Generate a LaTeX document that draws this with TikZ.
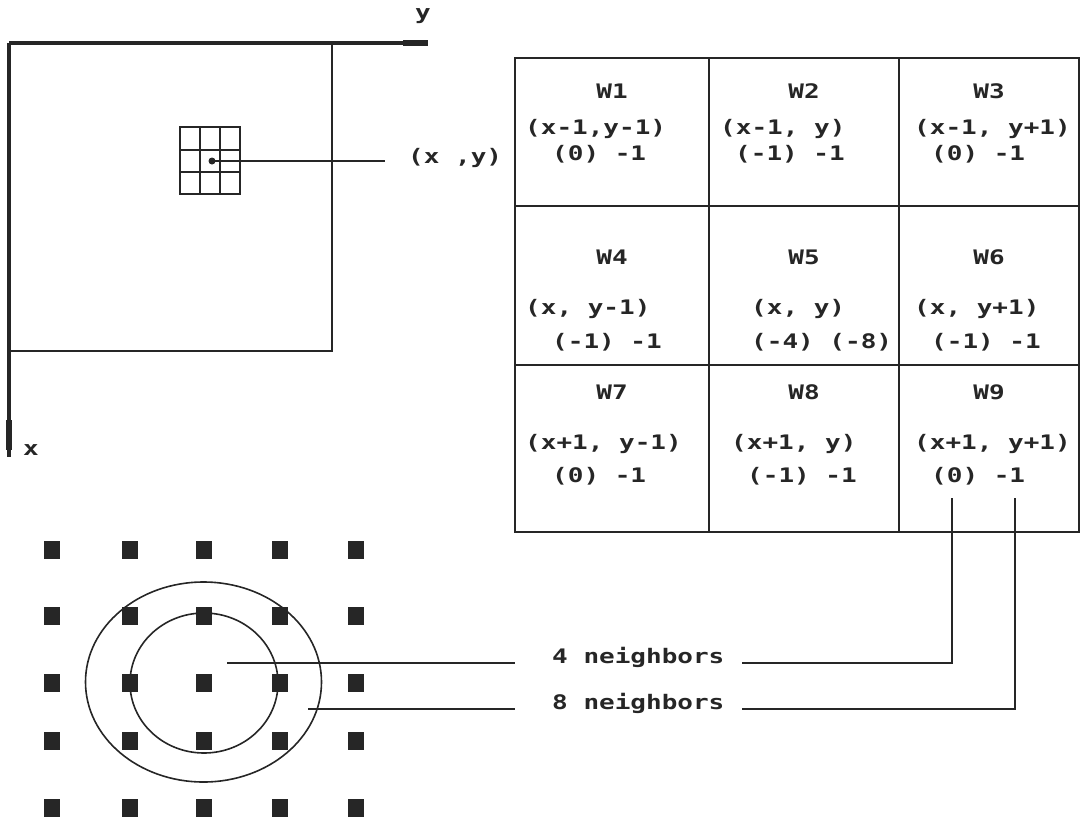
\documentclass[tikz,border=0pt]{standalone}
\usepackage{fontspec}
\newfontfamily\dmfont{DejaVu Sans Mono}[FakeStretch=1.3]
\begin{document}
\begin{tikzpicture}[x=1pt,y=-1pt,
  ln/.style={line width=1.6pt, black!85},
  axis/.style={line width=3.2pt, black!85},
  axend/.style={line width=6pt, black!85},
  txt/.style={font=\dmfont\bfseries\fontsize{20}{20}\selectfont, inner sep=0pt, text=black!85},
  lt/.style={txt, anchor=mid west},
  ct/.style={txt, anchor=mid},
  sq/.style={fill=black!85, minimum width=16pt, minimum height=18pt, inner sep=0pt}
]
\useasboundingbox (0,0) rectangle (1081,820);
% axes
\coordinate (O) at (9,43);
\coordinate (Yend) at (428,43);
\coordinate (Xend) at (9,457);
\draw[axis] (O) -- (Yend);
\draw[axis] (O) -- (Xend);
\draw[axend] (403,43) -- (Yend);
\draw[axend] (9,420) -- (9,450);
\node[ct] (ylab) at (423,17) {y};
\node[ct] (xlab) at (31,453) {x};
% image rectangle
\coordinate (R1) at (332,43);
\coordinate (R2) at (332,351);
\coordinate (R3) at (11,351);
\draw[ln] (R1) -- (R2) -- (R3);
% 3x3 window
\draw[ln] (180,127) rectangle (240,194);
\draw[ln] (200,127) -- (200,194) (220,127) -- (220,194)
          (180,150) -- (240,150) (180,172) -- (240,172);
\node[circle, fill=black!85, inner sep=0pt, minimum size=7pt] (dot) at (212,161) {};
\node[lt] (xy) at (408,161) {(x ,y)};
\coordinate (xyline) at (385,161);
\draw[ln] (dot.center) -- (xyline);
% table
\draw[ln] (515,58) rectangle (1079,532);
\draw[ln] (709,58) -- (709,532) (899,58) -- (899,532)
          (515,206) -- (1079,206) (515,365) -- (1079,365);
% row 1
\node[ct] (w1) at (612,96) {W1};
\node[lt] (c1) at (525,132) {(x-1,y-1)};
\node[lt] (v1) at (552,158) {(0) -1};
\node[ct] (w2) at (804,96) {W2};
\node[lt] (c2) at (720,132) {(x-1, y)};
\node[lt] (v2) at (735,158) {(-1) -1};
\node[ct] (w3) at (989,96) {W3};
\node[lt] (c3) at (914,132) {(x-1, y+1)};
\node[lt] (v3) at (931,158) {(0) -1};
% row 2
\node[ct] (w4) at (612,262) {W4};
\node[lt] (c4) at (525,312) {(x, y-1)};
\node[lt] (v4) at (552,346) {(-1) -1};
\node[ct] (w5) at (804,262) {W5};
\node[lt] (c5) at (751,312) {(x, y)};
\node[lt] (v5) at (751,346) {(-4) (-8)};
\node[ct] (w6) at (989,262) {W6};
\node[lt] (c6) at (914,312) {(x, y+1)};
\node[lt] (v6) at (931,346) {(-1) -1};
% row 3
\node[ct] (w7) at (612,397) {W7};
\node[lt] (c7) at (525,447) {(x+1, y-1)};
\node[lt] (v7) at (552,480) {(0) -1};
\node[ct] (w8) at (804,397) {W8};
\node[lt] (c8) at (731,447) {(x+1, y)};
\node[lt] (v8) at (747,480) {(-1) -1};
\node[ct] (w9) at (989,397) {W9};
\node[lt] (c9) at (914,447) {(x+1, y+1)};
\node[lt] (v9) at (931,480) {(0) -1};
% pixel lattice
\foreach \i/\x in {1/52,2/130,3/204,4/280,5/356}{
  \foreach \j/\y in {1/550,2/616,3/683,4/741,5/808}{
    \node[sq] (p\i\j) at (\x,\y) {};
  }
}
% neighbourhoods
\draw[ln] (204,683) ellipse [x radius=74, y radius=70];
\draw[ln] (203.5,682) ellipse [x radius=118, y radius=100];
% labels
\node[lt] (n4) at (552,661) {4 neighbors};
\node[lt] (n8) at (552,707) {8 neighbors};
\coordinate (a4) at (227,663);
\coordinate (b4) at (515,663);
\coordinate (a8) at (308,709);
\coordinate (b8) at (515,709);
\draw[ln] (a4) -- (b4);
\draw[ln] (a8) -- (b8);
\coordinate (t4) at (952,498);
\coordinate (t8) at (1015,498);
\coordinate (e4) at (742,663);
\coordinate (e8) at (742,709);
\draw[ln] (t4) |- (e4);
\draw[ln] (t8) |- (e8);
\end{tikzpicture}
\end{document}
